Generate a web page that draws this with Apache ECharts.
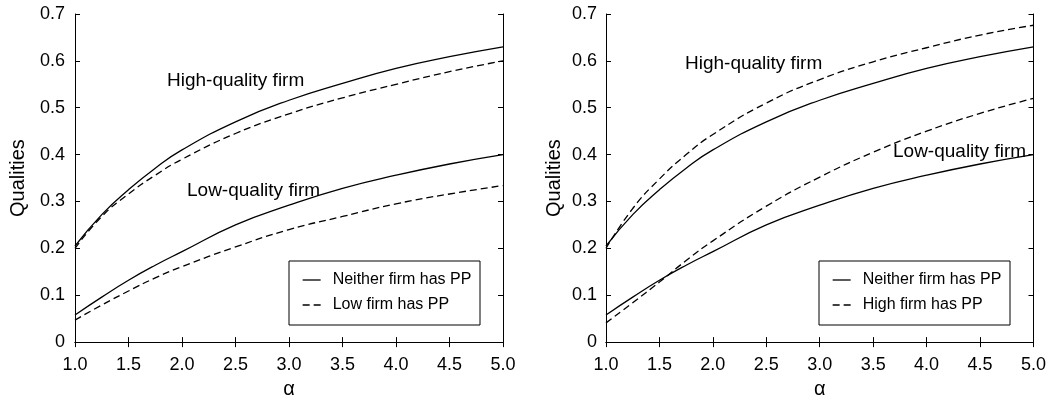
<!DOCTYPE html>
<html>
<head>
<meta charset="utf-8">
<script src="https://cdn.jsdelivr.net/npm/echarts@6/dist/echarts.min.js"></script>
<style>
html,body{margin:0;padding:0;background:#fff;}
#chart{width:1049px;height:404px;}
</style>
</head>
<body>
<div id="chart"></div>
<script>
// ---- data ----
const alpha = [1.0, 1.25, 1.5, 1.75, 2.0, 2.5, 3.0, 3.5, 4.0, 4.5, 5.0];
// Neither firm has PP (same in both panels)
const neitherHigh = [0.205, 0.272, 0.325, 0.371, 0.41, 0.47, 0.516, 0.552, 0.584, 0.609, 0.63];
const neitherLow  = [0.058, 0.096, 0.132, 0.164, 0.193, 0.25, 0.292, 0.328, 0.356, 0.38, 0.40];
// Left panel: Low firm has PP
const lowPPHigh = [0.200, 0.268, 0.316, 0.356, 0.39, 0.445, 0.487, 0.521, 0.55, 0.577, 0.60];
const lowPPLow  = [0.047, 0.079, 0.109, 0.137, 0.161, 0.203, 0.24, 0.268, 0.295, 0.316, 0.334];
// Right panel: High firm has PP
const highPPHigh = [0.200, 0.285, 0.348, 0.400, 0.443, 0.51, 0.56, 0.598, 0.628, 0.655, 0.676];
const highPPLow  = [0.041, 0.084, 0.128, 0.174, 0.216, 0.29, 0.352, 0.405, 0.45, 0.488, 0.52];

const xTicks = {min: 1.0, max: 5.0, interval: 0.5};
const yTicks = {min: 0, max: 0.7, interval: 0.1};
const legendLeft = ['Neither firm has PP', 'Low firm has PP'];
const legendRight = ['Neither firm has PP', 'High firm has PP'];
const notes = ['High-quality firm', 'Low-quality firm'];
const xName = 'α';
const yName = 'Qualities';

// ---- chart ----
const FONT = 'Liberation Sans, Arial, Helvetica, sans-serif';
const pair = (ys) => alpha.map((a, i) => [a, ys[i]]);
const chart = echarts.init(document.getElementById('chart'), null, {renderer: 'canvas'});

const axLine = {show: true, lineStyle: {color: '#000', width: 1}};
const tick = {show: true, inside: true, length: 5, lineStyle: {color: '#000', width: 1}};

function xAxisPair(gi) {
  return [
    {type: 'value', gridIndex: gi, position: 'bottom', min: xTicks.min, max: xTicks.max, interval: xTicks.interval,
     axisLine: axLine, axisTick: tick, splitLine: {show: false},
     axisLabel: {color: '#000', fontSize: 18, fontFamily: FONT, margin: 14, formatter: v => v.toFixed(1)},
     name: xName, nameLocation: 'middle', nameGap: 34,
     nameTextStyle: {color: '#000', fontSize: 20, fontFamily: FONT}},
    {type: 'value', gridIndex: gi, position: 'top', min: xTicks.min, max: xTicks.max, interval: xTicks.interval,
     axisLine: axLine, axisTick: tick, splitLine: {show: false}, axisLabel: {show: false}}
  ];
}
function yAxisPair(gi, gap, margin) {
  return [
    {type: 'value', gridIndex: gi, position: 'left', min: yTicks.min, max: yTicks.max, interval: yTicks.interval,
     axisLine: axLine, axisTick: tick, splitLine: {show: false},
     axisLabel: {color: '#000', fontSize: 18, fontFamily: FONT, margin: margin,
                 formatter: v => (v === 0 ? '0' : v.toFixed(1))},
     name: yName, nameLocation: 'middle', nameGap: gap,
     nameTextStyle: {color: '#000', fontSize: 20, fontFamily: FONT}},
    {type: 'value', gridIndex: gi, position: 'right', min: yTicks.min, max: yTicks.max, interval: yTicks.interval,
     axisLine: axLine, axisTick: tick, splitLine: {show: false}, axisLabel: {show: false}}
  ];
}

function line(name, data, xi, yi, dashed) {
  return {
    type: 'line', name: name, xAxisIndex: xi, yAxisIndex: yi, data: pair(data),
    smooth: 0.5, showSymbol: false, symbol: 'none', silent: true,
    lineStyle: {color: '#000', width: 1.3, type: dashed ? [7, 4] : 'solid'},
    itemStyle: {color: '#000'}
  };
}

function legendBlock(names, left) {
  return {
    data: names, orient: 'vertical', left: left, top: 272, padding: 0, z: 10,
    itemWidth: 18, itemHeight: 10, itemGap: 9, selectedMode: false,
    itemStyle: {color: 'rgba(0,0,0,0)', borderWidth: 0, opacity: 0},
    lineStyle: {color: '#000', width: 1.3},
    textStyle: {color: '#000', fontSize: 16, fontFamily: FONT, lineHeight: 16, padding: [0, 0, 0, 7]}
  };
}

function note(text, x, y) {
  return {type: 'text', x: x, y: y, z: 10,
          style: {text: text, fill: '#000', font: '19px ' + FONT,
                  textVerticalAlign: 'middle', verticalAlign: 'middle'}};
}

const option = {
  animation: false,
  backgroundColor: '#fff',
  grid: [
    {left: 75, top: 14, width: 428, height: 337},
    {left: 606, top: 14, width: 428, height: 337}
  ],
  xAxis: [...xAxisPair(0), ...xAxisPair(1)],
  yAxis: [...yAxisPair(0, 47, 10), ...yAxisPair(1, 42, 9)],
  legend: [legendBlock(legendLeft, 302), legendBlock(legendRight, 832)],
  graphic: [
    {type: 'rect', shape: {x: 289, y: 261, width: 191, height: 64}, z: 1, zlevel: 0,
     style: {fill: 'none', stroke: '#000', lineWidth: 1}},
    {type: 'rect', shape: {x: 819, y: 261, width: 191, height: 64}, z: 1, zlevel: 0,
     style: {fill: 'none', stroke: '#000', lineWidth: 1}},
    note(notes[0], 167, 81),
    note(notes[1], 187, 191),
    note(notes[0], 685, 64),
    note(notes[1], 893, 152)
  ],
  series: [
    line(legendLeft[0], neitherHigh, 0, 0, false),
    line(legendLeft[0], neitherLow, 0, 0, false),
    line(legendLeft[1], lowPPHigh, 0, 0, true),
    line(legendLeft[1], lowPPLow, 0, 0, true),
    line(legendRight[0], neitherHigh, 2, 2, false),
    line(legendRight[0], neitherLow, 2, 2, false),
    line(legendRight[1], highPPHigh, 2, 2, true),
    line(legendRight[1], highPPLow, 2, 2, true)
  ]
};
chart.setOption(option);
</script>
</body>
</html>
